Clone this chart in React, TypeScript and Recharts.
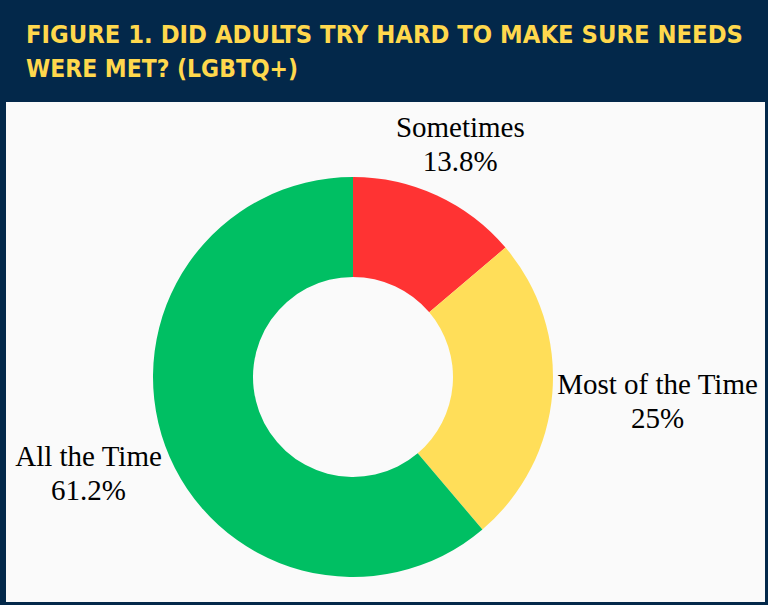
import React from "react";
import { PieChart, Pie, Cell } from "recharts";

const categories = ["Sometimes", "Most of the Time", "All the Time"];
const values = [13.8, 25, 61.2];
const valueLabels = ["13.8%", "25%", "61.2%"];
const colors = ["#FF3333", "#FFDE59", "#00BF63"];

const titleLines = ["FIGURE 1. DID ADULTS TRY HARD TO MAKE SURE NEEDS", "WERE MET? (LGBTQ+)"];

const NAVY = "#03284A";
const LABEL_FONT = 29;
const LINE_GAP = 34;
const SERIF = '"Liberation Serif", "Times New Roman", serif';

const data = categories.map((name, i) => ({ name, value: values[i], label: valueLabels[i] }));

let measureCtx: CanvasRenderingContext2D | null = null;
function textWidth(s: string) {
  if (!measureCtx) {
    measureCtx = document.createElement("canvas").getContext("2d");
  }
  if (!measureCtx) return s.length * LABEL_FONT * 0.5;
  measureCtx.font = `${LABEL_FONT}px "Liberation Serif"`;
  return measureCtx.measureText(s).width;
}

// places the two-line label just outside the ring, like the office chart does
function renderLabel(props: any) {
  const { cx, cy, midAngle, outerRadius, payload } = props;
  const rad = (Math.PI / 180) * midAngle;
  const dx = Math.cos(rad);
  const dy = -Math.sin(rad);
  const w = Math.max(textWidth(payload.name), textWidth(payload.label));
  const halfW = w / 2;
  const halfH = LINE_GAP - 6;
  const dist = outerRadius + 3 + Math.abs(dx) * halfW + Math.abs(dy) * halfH;
  const x = cx + dx * dist;
  const y = cy + dy * dist;
  return (
    <text x={x} y={y} textAnchor="middle" fill="#000" fontFamily={SERIF} fontSize={LABEL_FONT}>
      <tspan x={x} dy={-LINE_GAP / 2 + 9}>{payload.name}</tspan>
      <tspan x={x} dy={LINE_GAP}>{payload.label}</tspan>
    </text>
  );
}

export default function App() {
  const titleStyle = { fontFamily: '"DejaVu Sans Condensed", "DejaVu Sans"', fontWeight: 700, fontSize: 25 };
  return (
    <div style={{ position: "absolute", left: 0, top: 0, width: 768, height: 605, background: NAVY }}>
      <div style={{ position: "absolute", left: 6, top: 102, width: 759, height: 500, background: "#FAFAFA" }} />
      <svg width={768} height={100} style={{ position: "absolute", left: 0, top: 0 }}>
        <text x={26} y={43} textLength={717} lengthAdjust="spacingAndGlyphs" fill="#FFD84D" style={titleStyle}>
          {titleLines[0]}
        </text>
        <text x={26} y={77} textLength={272} lengthAdjust="spacingAndGlyphs" fill="#FFD84D" style={titleStyle}>
          {titleLines[1]}
        </text>
      </svg>
      <div style={{ position: "absolute", left: 0, top: 0 }}>
        <PieChart width={768} height={605} margin={{ top: 0, right: 0, bottom: 0, left: 0 }}>
          <Pie
            data={data}
            dataKey="value"
            nameKey="name"
            cx={353}
            cy={377}
            innerRadius={100}
            outerRadius={200}
            startAngle={90}
            endAngle={-270}
            stroke="none"
            label={renderLabel}
            labelLine={false}
            isAnimationActive={false}
          >
            {data.map((d, i) => (
              <Cell key={d.name} fill={colors[i]} />
            ))}
          </Pie>
        </PieChart>
      </div>
    </div>
  );
}
